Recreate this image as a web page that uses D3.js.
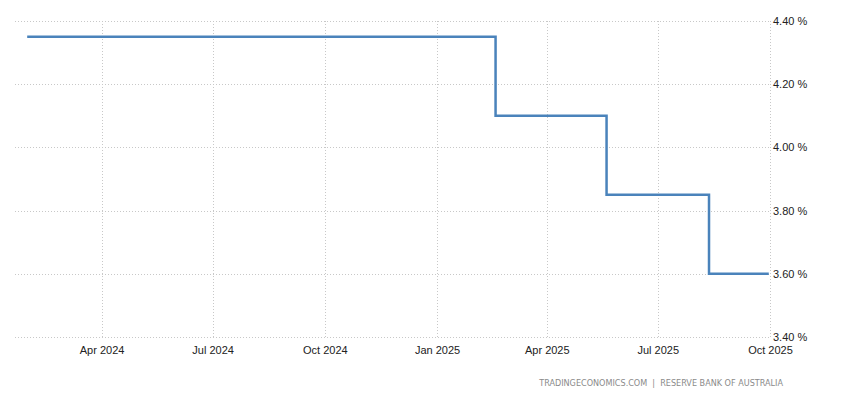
<!DOCTYPE html>
<html>
<head>
<meta charset="utf-8">
<script src="https://cdn.jsdelivr.net/npm/d3@7"></script>
<style>
  body { margin: 0; background: #fff; }
  svg { display: block; font-family: "Liberation Sans", Arial, sans-serif; }
  .grid line { stroke: #c8c8c8; stroke-dasharray: 1,2; }
  .tick text { fill: #222; font-size: 11px; }
</style>
</head>
<body>
<svg id="chart" width="850" height="400"></svg>
<script>
// cash rate changes (step after each date)
const dates = ["2024-01-31", "2025-02-18", "2025-05-20", "2025-08-12", "2025-09-30"]
const rates = [4.35, 4.10, 3.85, 3.60, 3.60]
const xTickDates = ["2024-04-01", "2024-07-01", "2024-10-01", "2025-01-01", "2025-04-01", "2025-07-01", "2025-10-01"]
const yTicks = [3.4, 3.6, 3.8, 4.0, 4.2, 4.4]
const sourceLabel = "TRADINGECONOMICS.COM  |  RESERVE BANK OF AUSTRALIA"

const parse = d3.utcParse("%Y-%m-%d")
const data = dates.map((d, i) => ({ date: parse(d), value: rates[i] }))

const svg = d3.select("#chart")
const plotLeft = 15, plotRight = 770, plotTop = 21, plotBottom = 337

const x = d3.scaleUtc().domain([parse("2024-01-21"), parse("2025-10-01")]).range([plotLeft, plotRight])
const y = d3.scaleLinear().domain([3.4, 4.4]).range([plotBottom, plotTop])

// horizontal grid
svg.append("g").attr("class", "grid")
  .selectAll("line").data(yTicks).join("line")
  .attr("x1", plotLeft).attr("x2", plotRight)
  .attr("y1", (d) => Math.round(y(d)) + 0.5).attr("y2", (d) => Math.round(y(d)) + 0.5)

// vertical grid
svg.append("g").attr("class", "grid")
  .selectAll("line").data(xTickDates.map(parse)).join("line")
  .attr("x1", (d) => Math.round(x(d)) + 0.5).attr("x2", (d) => Math.round(x(d)) + 0.5)
  .attr("y1", plotTop).attr("y2", plotBottom)

// y axis on the right
const yAxis = d3.axisRight(y).tickValues(yTicks).tickSize(0).tickPadding(3)
  .tickFormat((d) => d3.format(".2f")(d) + " %")
svg.append("g").attr("transform", `translate(${plotRight},0)`).call(yAxis)
  .call((g) => g.select(".domain").remove())

// x axis
const xAxis = d3.axisBottom(x).tickValues(xTickDates.map(parse)).tickSize(0).tickPadding(9)
  .tickFormat(d3.utcFormat("%b %Y"))
svg.append("g").attr("transform", `translate(0,${plotBottom})`).call(xAxis)
  .call((g) => g.select(".domain").remove())

// rate line
const line = d3.line()
  .x((d) => x(d.date))
  .y((d) => y(d.value))
  .curve(d3.curveStepAfter)

svg.append("path").datum(data)
  .attr("fill", "none")
  .attr("stroke", "#4a83bb")
  .attr("stroke-width", 2.5)
  .attr("d", line)

// source
svg.append("text")
  .attr("x", 783).attr("y", 386)
  .attr("text-anchor", "end")
  .attr("fill", "#8a8a8a")
  .attr("font-size", "9px")
  .attr("font-family", "'Liberation Sans Narrow', 'DejaVu Sans Condensed', sans-serif")
  .style("white-space", "pre")
  .text(sourceLabel)
</script>
</body>
</html>
